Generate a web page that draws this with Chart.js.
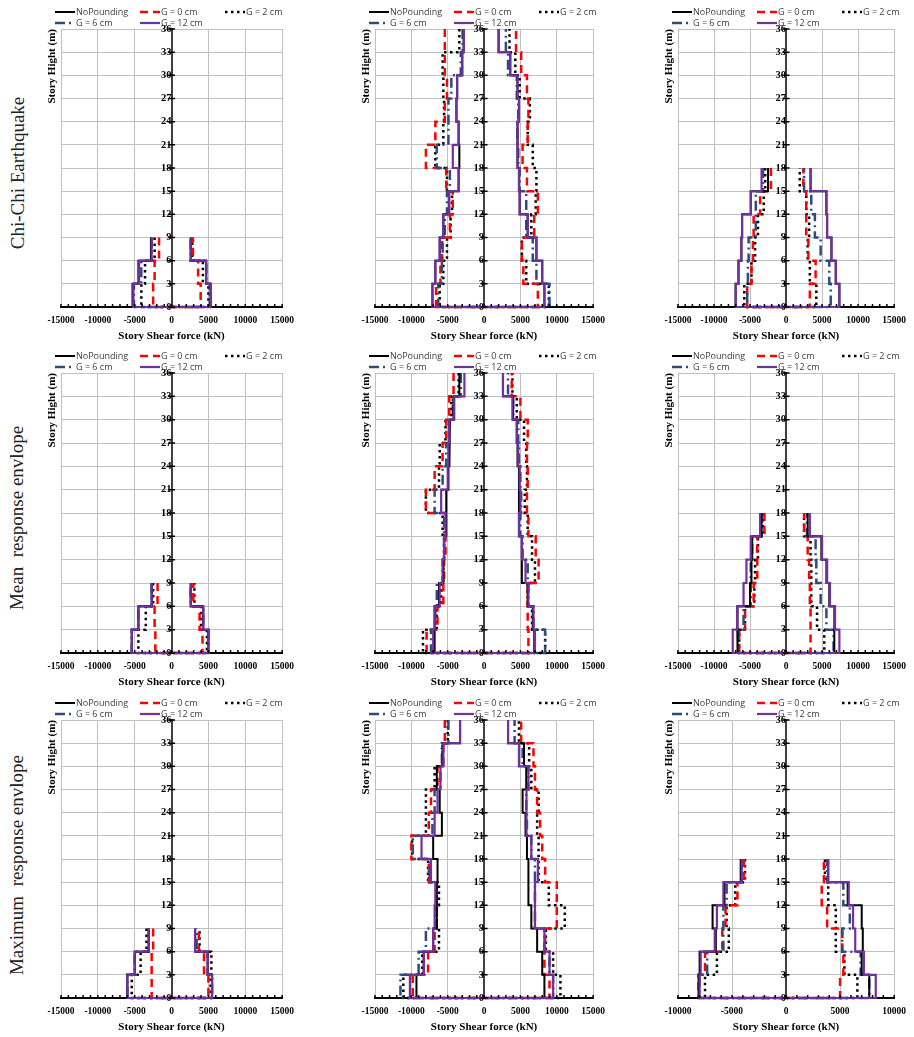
<!DOCTYPE html>
<html>
<head>
<meta charset="utf-8">
<script src="https://cdn.jsdelivr.net/npm/chart.js@4/dist/chart.umd.min.js"></script>
<style>
  html, body { margin: 0; padding: 0; background: #fff; }
  body { width: 914px; height: 1037px; position: relative; overflow: hidden; }
  .panel { position: absolute; }
  .row-title {
    position: absolute; font-family: 'Liberation Serif', serif; font-size: 19px; color: #222;
    white-space: pre; transform: translate(-50%, -50%) rotate(-90deg);
  }
</style>
</head>
<body>
<script>
// ---- data ----
const seriesNames = ['NoPounding', 'G = 0 cm', 'G = 2 cm', 'G = 6 cm', 'G = 12 cm'];
const rowTitles = ['Chi-Chi Earthquake', 'Mean  response envlope', 'Maximum  response envlope'];
const storyHeight = 3;          // m per story
const heightMax = 36;
const forceLimits = [15000, 15000, 15000, 15000, 15000, 15000, 15000, 15000, 10000];

// story shear per story (bottom story first), one row per series
const chiChi3Neg = [
  [-5300, -4500, -2800],
  [-2500, -2300, -1700],
  [-4100, -3600, -2300],
  [-5100, -4100, -2700],
  [-5200, -4400, -2700]
];
const chiChi3Pos = [
  [5300, 4700, 2600],
  [3950, 3600, 2900],
  [5000, 4250, 2800],
  [5200, 4700, 2600],
  [5300, 4700, 2600]
];
const chiChi12Neg = [
  [-7100, -6700, -6100, -5600, -4800, -3500, -3400, -3500, -3800, -3700, -3000, -2800],
  [-6600, -6000, -5800, -4700, -4300, -5200, -8000, -6700, -5400, -5100, -5400, -5400],
  [-6100, -5600, -5100, -4600, -4400, -5100, -6700, -5600, -5500, -5600, -5700, -3400],
  [-6300, -5800, -5700, -5400, -5100, -4700, -6500, -4900, -4900, -4500, -3200, -2950],
  [-7100, -6700, -6100, -5600, -4800, -3500, -4300, -3500, -3800, -3700, -3000, -2800]
];
const chiChi12Pos = [
  [8300, 8000, 7200, 6000, 4900, 4800, 4600, 4600, 4800, 4600, 3600, 2000],
  [7400, 5400, 5200, 6900, 7400, 5900, 5300, 6000, 6100, 5900, 5100, 4400],
  [8900, 5800, 5200, 6500, 7100, 7200, 6700, 6000, 6300, 4900, 4300, 3500],
  [9000, 7200, 6700, 5800, 5800, 4900, 4700, 4600, 4700, 4500, 3300, 3000],
  [8300, 8000, 7200, 6000, 4900, 4800, 4600, 4600, 4800, 4600, 3600, 2000]
];
const chiChi6Neg = [
  [-7000, -6600, -6200, -6100, -4900, -2500],
  [-5400, -4800, -4600, -4500, -3600, -2100],
  [-5800, -4800, -4300, -3900, -3100, -2900],
  [-5400, -5300, -5200, -4200, -4200, -3200],
  [-7000, -6600, -6200, -6100, -4900, -3400]
];
const chiChi6Pos = [
  [7400, 6900, 6300, 5700, 5600, 3400],
  [3300, 4100, 3100, 2800, 2800, 2400],
  [4200, 3300, 3000, 3200, 2800, 1900],
  [6200, 6000, 4800, 4000, 3500, 2500],
  [7400, 6900, 6300, 5700, 5600, 3400]
];
const mean3Neg = [
  [-5400, -4500, -2700],
  [-2200, -2300, -1900],
  [-4500, -3500, -2500],
  [-5400, -4500, -2700],
  [-5400, -4500, -2700]
];
const mean3Pos = [
  [5000, 4300, 2600],
  [4200, 3800, 2950],
  [4800, 4000, 3100],
  [5000, 4300, 2600],
  [5000, 4300, 2600]
];
const mean12Neg = [
  [-6800, -6800, -6200, -5600, -5500, -5200, -5200, -4900, -4800, -4700, -4200, -3400],
  [-7900, -6400, -5600, -5500, -5300, -5300, -8000, -6800, -5700, -5200, -4800, -4200],
  [-8400, -6500, -5900, -5600, -5500, -5700, -8000, -6200, -6100, -5300, -4500, -3500],
  [-7300, -6700, -6500, -5700, -5500, -5500, -6800, -5700, -5200, -4800, -4300, -3200],
  [-7000, -6800, -6100, -5700, -5500, -5300, -5900, -5000, -4900, -4800, -4100, -2700]
];
const mean12Pos = [
  [6900, 6700, 6000, 5200, 5200, 4800, 4800, 4800, 4600, 4500, 4000, 2600],
  [6100, 6000, 6000, 7500, 7100, 6100, 5900, 6000, 5900, 6000, 5000, 3800],
  [8400, 6600, 6000, 7000, 6600, 6000, 5600, 5900, 5800, 5500, 4500, 3900],
  [8400, 6800, 6100, 6000, 5300, 5000, 5100, 5000, 4800, 4700, 4000, 3300],
  [7000, 6800, 6100, 5700, 5200, 4800, 5000, 4900, 4700, 4500, 3900, 2600]
];
const mean6Neg = [
  [-6700, -6800, -5000, -4800, -4700, -3400],
  [-6500, -5700, -4500, -4000, -4000, -3000],
  [-6500, -5700, -4400, -4300, -3900, -3200],
  [-6600, -5900, -4900, -4900, -4700, -3400],
  [-7400, -6800, -5900, -5500, -4900, -3600]
];
const mean6Pos = [
  [6700, 6700, 6000, 5600, 4900, 3000],
  [3400, 3400, 3300, 3200, 3000, 2500],
  [5300, 4300, 3500, 3500, 3400, 2500],
  [6600, 5600, 4800, 4200, 4100, 2900],
  [7400, 6800, 6100, 5700, 5000, 3300]
];
const max3Neg = [
  [-6000, -5000, -3100],
  [-2700, -2700, -2500],
  [-5400, -4200, -3400],
  [-6000, -5000, -3100],
  [-6000, -5000, -3100]
];
const max3Pos = [
  [5500, 4900, 3200],
  [5000, 4400, 3700],
  [5300, 5400, 3800],
  [5500, 4900, 3400],
  [5500, 4900, 3200]
];
const max12Neg = [
  [-9300, -8300, -7000, -6500, -6500, -6400, -7000, -5800, -6100, -6500, -5700, -3300],
  [-9800, -7700, -6800, -6500, -6500, -7600, -10000, -7600, -7300, -6400, -5600, -5400],
  [-11100, -8500, -6200, -6500, -6200, -7700, -9900, -8000, -8000, -6800, -5700, -5000],
  [-11500, -9000, -8000, -6600, -6600, -7500, -9800, -7100, -6800, -6000, -5800, -4900],
  [-10200, -8300, -7000, -6800, -6700, -7300, -8600, -6800, -6400, -6000, -5600, -3300]
];
const max12Pos = [
  [8300, 8000, 7300, 6500, 6100, 6100, 5900, 5700, 5300, 5800, 5500, 3300],
  [9000, 8300, 8400, 10000, 10000, 8400, 8000, 7700, 7300, 7000, 6800, 5100],
  [10500, 9500, 8500, 11100, 8900, 7500, 7500, 7300, 7500, 6500, 6200, 4800],
  [9500, 9000, 8300, 7000, 7000, 7000, 6500, 5900, 5800, 6100, 5300, 4200],
  [9500, 9000, 8300, 7000, 7000, 7400, 6500, 5900, 5800, 6100, 4800, 3300]
];
const max6Neg = [
  [-8100, -8000, -6500, -6800, -5700, -4200],
  [-8100, -7500, -5900, -5600, -4500, -3900],
  [-7500, -6400, -5300, -5500, -4700, -3800],
  [-8000, -7300, -5800, -5800, -5500, -4100],
  [-8000, -7900, -6600, -6400, -5800, -4100]
];
const max6Pos = [
  [7700, 7000, 7100, 7000, 5700, 3900],
  [5000, 5300, 5200, 3800, 3300, 3500],
  [6600, 5400, 4600, 4600, 3900, 3600],
  [7700, 6900, 5200, 5900, 5300, 3800],
  [8300, 7200, 6400, 6200, 5800, 3900]
];

const panels = [
  [chiChi3Neg, chiChi3Pos], [chiChi12Neg, chiChi12Pos], [chiChi6Neg, chiChi6Pos],
  [mean3Neg, mean3Pos], [mean12Neg, mean12Pos], [mean6Neg, mean6Pos],
  [max3Neg, max3Pos], [max12Neg, max12Pos], [max6Neg, max6Pos]
];

// ---- styles / layout ----
const seriesStyles = [
  { color: '#000000', width: 2,   dash: [] },
  { color: '#ff0000', width: 2.5, dash: [8, 5] },
  { color: '#000000', width: 2.5, dash: [2.5, 3.5] },
  { color: '#2f4b7c', width: 2.5, dash: [10, 4, 2, 4] },
  { color: '#7030a0', width: 2.2, dash: [] }
];
const drawOrder = [1, 3, 4, 2, 0];
const colLeft = [15, 329, 632], colWidth = [287, 284, 282], padRight = [18, 18, 16];
const rowTop = [0, 344, 691], rowHeight = [345, 347, 345];
const rowTitlePos = [[18, 173], [17, 518], [17, 865]];
const gridColor = '#c0c0c0';
const axisColor = '#404040';

Chart.defaults.font.family = "'Liberation Serif', serif";
Chart.defaults.color = '#000';

// step profile: top of left envelope down to base, across, then up the right envelope
function profile(neg, pos) {
  const pts = [];
  for (let i = neg.length - 1; i >= 0; i--) {
    pts.push({ x: neg[i], y: storyHeight * (i + 1) });
    pts.push({ x: neg[i], y: storyHeight * i });
  }
  for (let i = 0; i < pos.length; i++) {
    pts.push({ x: pos[i], y: storyHeight * i });
    pts.push({ x: pos[i], y: storyHeight * (i + 1) });
  }
  return pts;
}

const legendPlugin = {
  id: 'gapLegend',
  afterDraw(chart) {
    const { ctx, chartArea } = chart;
    const cols = [-6, 79, 164];
    ctx.save();
    ctx.font = "9px 'Open Sans'";
    ctx.textBaseline = 'middle';
    chart.data.datasets.forEach((ds, i) => {
      const x = chartArea.left + cols[i % 3];
      const y = chartArea.top - 17 + (i < 3 ? 0 : 11);
      ctx.beginPath();
      ctx.setLineDash(ds.borderDash);
      ctx.strokeStyle = ds.borderColor;
      ctx.lineWidth = ds.borderWidth;
      ctx.moveTo(x, y);
      ctx.lineTo(x + 20, y);
      ctx.stroke();
      ctx.setLineDash([]);
      ctx.fillStyle = '#404040';
      ctx.fillText(ds.label, x + 21, y + 0.5);
    });
    ctx.restore();
  }
};

// small tick marks sitting on the base line, and crossing marks on the centre axis
const axisMarks = {
  id: 'axisMarks',
  afterDraw(chart) {
    const sx = chart.scales.x, sy = chart.scales.yc, ctx = chart.ctx;
    const bottom = chart.chartArea.bottom, cx = sx.getPixelForValue(0);
    ctx.save();
    ctx.strokeStyle = '#000';
    ctx.lineWidth = 1.5;
    ctx.beginPath();
    sx.ticks.forEach(t => {
      const px = sx.getPixelForValue(t.value);
      ctx.moveTo(px, bottom);
      ctx.lineTo(px, bottom - 3);
    });
    sy.ticks.forEach(t => {
      const py = sy.getPixelForValue(t.value);
      ctx.moveTo(cx - 3.5, py);
      ctx.lineTo(cx + 3.5, py);
    });
    ctx.stroke();
    ctx.restore();
  }
};

rowTitles.forEach((t, r) => {
  const d = document.createElement('div');
  d.className = 'row-title';
  d.style.left = rowTitlePos[r][0] + 'px';
  d.style.top = rowTitlePos[r][1] + 'px';
  d.textContent = t;
  document.body.appendChild(d);
});

panels.forEach(([neg, pos], p) => {
  const r = Math.floor(p / 3), c = p % 3;
  const box = document.createElement('div');
  box.className = 'panel';
  box.style.left = colLeft[c] + 'px';
  box.style.top = rowTop[r] + 'px';
  box.style.width = colWidth[c] + 'px';
  box.style.height = rowHeight[r] + 'px';
  const canvas = document.createElement('canvas');
  box.appendChild(canvas);
  document.body.appendChild(box);

  const lim = forceLimits[p];
  new Chart(canvas, {
    type: 'scatter',
    data: {
      datasets: seriesNames.map((name, s) => ({
        label: name,
        data: profile(neg[s], pos[s]),
        showLine: true,
        borderColor: seriesStyles[s].color,
        backgroundColor: seriesStyles[s].color,
        borderWidth: seriesStyles[s].width,
        borderDash: seriesStyles[s].dash,
        pointRadius: 0,
        tension: 0,
        clip: false,
        order: drawOrder[s]
      }))
    },
    options: {
      responsive: true,
      maintainAspectRatio: false,
      animation: false,
      layout: { padding: { left: 30.8, right: padRight[c], top: 29, bottom: 0 } },
      plugins: { legend: { display: false }, tooltip: { enabled: false } },
      scales: {
        x: {
          type: 'linear', min: -lim, max: lim,
          afterFit: scale => { scale.height = 38; },
          ticks: {
            stepSize: 1000, autoSkip: false, maxRotation: 0, padding: 8,
            font: { size: 9.5, weight: 'bold' },
            callback: v => (v % 5000 === 0 ? String(v) : '')
          },
          grid: {
            drawTicks: false,
            color: ctx => (ctx.tick && ctx.tick.value % 5000 === 0 && ctx.tick.value !== 0 ? gridColor : 'rgba(0,0,0,0)')
          },
          border: { color: '#000', width: 2 },
          title: { display: true, text: 'Story Shear force (kN)', font: { size: 11, weight: 'bold' }, padding: { top: 2, bottom: 2 } }
        },
        y: {
          type: 'linear', min: 0, max: heightMax,
          ticks: { stepSize: storyHeight, display: false },
          grid: {
            drawTicks: false,
            color: ctx => (ctx.tick && ctx.tick.value === 0 ? 'rgba(0,0,0,0)' : gridColor)
          },
          border: { display: false },
          title: { display: true, text: 'Story Hight (m)', align: 'end', font: { size: 11, weight: 'bold' }, padding: { top: 0, bottom: 2 } }
        },
        yc: {
          axis: 'y', type: 'linear', min: 0, max: heightMax,
          position: { x: 0 },
          ticks: { stepSize: storyHeight, padding: 5, font: { size: 10.5, weight: 'bold' } },
          grid: { drawOnChartArea: false, drawTicks: false },
          border: { color: axisColor, width: 2 }
        }
      }
    },
    plugins: [legendPlugin, axisMarks]
  });
});
</script>
</body>
</html>
